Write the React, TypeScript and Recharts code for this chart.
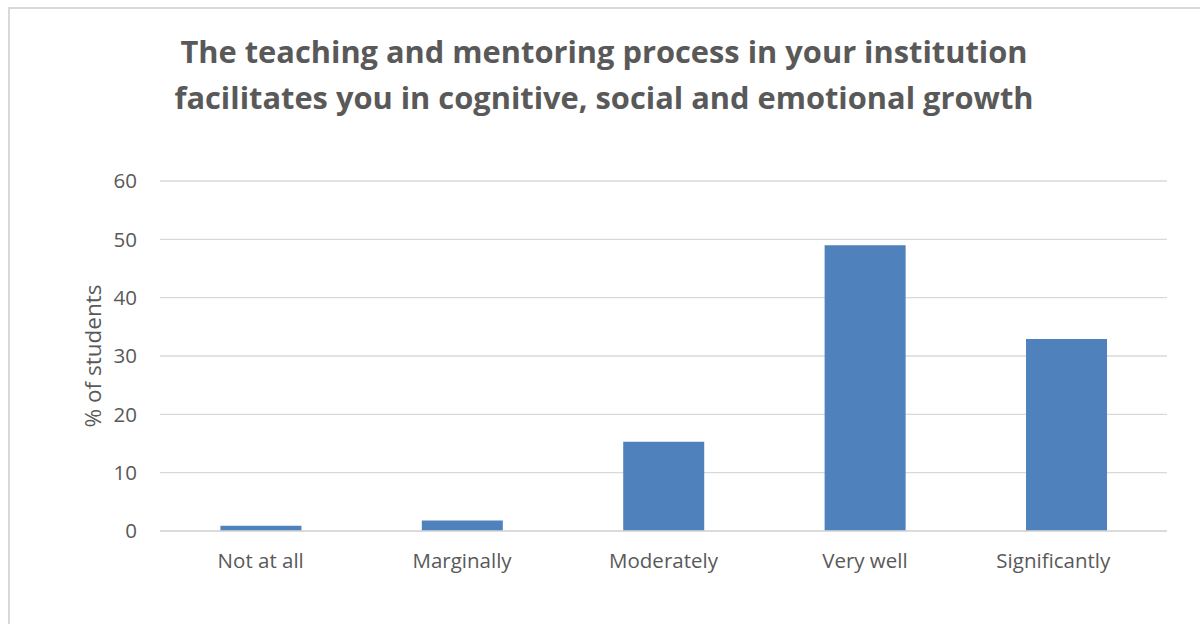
import React from 'react';
import { BarChart, Bar, XAxis, YAxis, CartesianGrid } from 'recharts';

const categories: string[] = ['Not at all', 'Marginally', 'Moderately', 'Very well', 'Significantly'];
const percentStudents: number[] = [0.9, 1.8, 15.3, 49, 32.9];
const yTicks: number[] = [0, 10, 20, 30, 40, 50, 60];
const titleLines: string[] = [
  'The teaching and mentoring process in your institution',
  'facilitates you in cognitive, social and emotional growth',
];
const yLabel = '% of students';

const data = categories.map((c, i) => ({ name: c, value: percentStudents[i] }));

const FONT = '"Open Sans", "Noto Sans", sans-serif';
const TEXT = '#595959';
const GRID = '#D9D9D9';
const BAR = '#4F81BD';

const XTick = (props: any) => {
  const { x, y, payload, index } = props;
  const shift = index === categories.length - 1 ? -13 : 0;
  return (
    <text x={x + shift} y={y} dy="0.71em" textAnchor="middle" fill={TEXT} fontFamily={FONT} fontSize={20.5}>
      {payload.value}
    </text>
  );
};

export default function App() {
  return (
    <div style={{ position: 'absolute', left: 0, top: 0, width: 1200, height: 624, overflow: 'hidden', background: '#fff' }}>
      <div style={{ position: 'absolute', left: 8, top: 7, width: 1400, height: 800, border: `2px solid ${GRID}`, boxSizing: 'border-box' }} />
      <div
        style={{
          position: 'absolute',
          left: 0,
          top: 28,
          width: 1208,
          textAlign: 'center',
          fontFamily: FONT,
          fontWeight: 700,
          fontSize: 30.8,
          lineHeight: '46px',
          color: TEXT,
        }}
      >
        {titleLines.map((t) => (
          <div key={t}>{t}</div>
        ))}
      </div>
      <div style={{ position: 'absolute', left: 0, top: 0 }}>
        <BarChart
          width={1200}
          height={624}
          data={data}
          margin={{ top: 181, right: 33, bottom: 53, left: 60 }}
          barCategoryGap="30%"
        >
          <CartesianGrid vertical={false} stroke={GRID} strokeWidth={1.3} />
          <XAxis
            dataKey="name"
            height={40}
            tickLine={false}
            tickSize={0}
            tickMargin={22}
            axisLine={{ stroke: GRID, strokeWidth: 1.3 }}
            tick={<XTick />}
            interval={0}
          />
          <YAxis
            width={100}
            domain={[0, 60]}
            ticks={yTicks}
            tickLine={false}
            axisLine={false}
            tickSize={0}
            tickMargin={23}
            tick={{ fill: TEXT, fontFamily: FONT, fontSize: 20.5 }}
            label={{
              value: yLabel,
              content: (props: any) => {
                const vb = props.viewBox || {};
                const cx = (vb.x ?? 60) + 32;
                const cy = (vb.y ?? 181) + (vb.height ?? 350) / 2;
                return (
                  <text
                    x={cx}
                    y={cy}
                    transform={`rotate(-90 ${cx} ${cy})`}
                    textAnchor="middle"
                    dominantBaseline="central"
                    fill={TEXT}
                    fontFamily={FONT}
                    fontSize={22.5}
                  >
                    {yLabel}
                  </text>
                );
              },
            }}
          />
          <Bar dataKey="value" fill={BAR} isAnimationActive={false} />
        </BarChart>
      </div>
    </div>
  );
}
